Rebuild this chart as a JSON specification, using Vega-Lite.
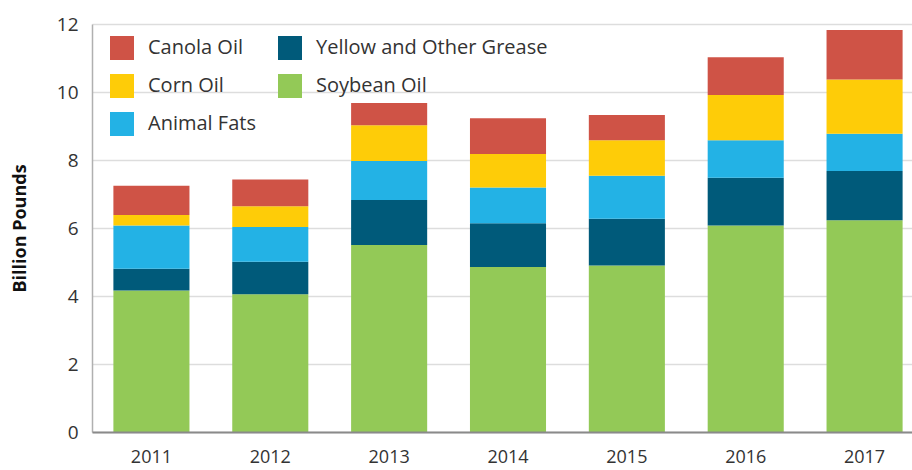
{
  "$schema": "https://vega.github.io/schema/vega-lite/v6.json",
  "width": 820,
  "height": 408,
  "autosize": "none",
  "padding": {"left": 92, "top": 24, "right": 0, "bottom": 38},
  "background": "white",
  "config": {
    "font": "Open Sans",
    "view": {"stroke": null},
    "axis": {"labelFont": "Open Sans", "labelColor": "#333333", "labelFontSize": 19}
  },
  "data": {
    "values": [
      {"year": "2011", "type": "Soybean Oil", "value": 4.16, "rank": 1},
      {"year": "2011", "type": "Yellow and Other Grease", "value": 0.64, "rank": 2},
      {"year": "2011", "type": "Animal Fats", "value": 1.27, "rank": 3},
      {"year": "2011", "type": "Corn Oil", "value": 0.31, "rank": 4},
      {"year": "2011", "type": "Canola Oil", "value": 0.86, "rank": 5},
      {"year": "2012", "type": "Soybean Oil", "value": 4.05, "rank": 1},
      {"year": "2012", "type": "Yellow and Other Grease", "value": 0.96, "rank": 2},
      {"year": "2012", "type": "Animal Fats", "value": 1.02, "rank": 3},
      {"year": "2012", "type": "Corn Oil", "value": 0.61, "rank": 4},
      {"year": "2012", "type": "Canola Oil", "value": 0.79, "rank": 5},
      {"year": "2013", "type": "Soybean Oil", "value": 5.50, "rank": 1},
      {"year": "2013", "type": "Yellow and Other Grease", "value": 1.32, "rank": 2},
      {"year": "2013", "type": "Animal Fats", "value": 1.15, "rank": 3},
      {"year": "2013", "type": "Corn Oil", "value": 1.05, "rank": 4},
      {"year": "2013", "type": "Canola Oil", "value": 0.66, "rank": 5},
      {"year": "2014", "type": "Soybean Oil", "value": 4.85, "rank": 1},
      {"year": "2014", "type": "Yellow and Other Grease", "value": 1.29, "rank": 2},
      {"year": "2014", "type": "Animal Fats", "value": 1.05, "rank": 3},
      {"year": "2014", "type": "Corn Oil", "value": 0.99, "rank": 4},
      {"year": "2014", "type": "Canola Oil", "value": 1.05, "rank": 5},
      {"year": "2015", "type": "Soybean Oil", "value": 4.90, "rank": 1},
      {"year": "2015", "type": "Yellow and Other Grease", "value": 1.37, "rank": 2},
      {"year": "2015", "type": "Animal Fats", "value": 1.27, "rank": 3},
      {"year": "2015", "type": "Corn Oil", "value": 1.04, "rank": 4},
      {"year": "2015", "type": "Canola Oil", "value": 0.74, "rank": 5},
      {"year": "2016", "type": "Soybean Oil", "value": 6.07, "rank": 1},
      {"year": "2016", "type": "Yellow and Other Grease", "value": 1.41, "rank": 2},
      {"year": "2016", "type": "Animal Fats", "value": 1.10, "rank": 3},
      {"year": "2016", "type": "Corn Oil", "value": 1.33, "rank": 4},
      {"year": "2016", "type": "Canola Oil", "value": 1.11, "rank": 5},
      {"year": "2017", "type": "Soybean Oil", "value": 6.23, "rank": 1},
      {"year": "2017", "type": "Yellow and Other Grease", "value": 1.45, "rank": 2},
      {"year": "2017", "type": "Animal Fats", "value": 1.09, "rank": 3},
      {"year": "2017", "type": "Corn Oil", "value": 1.60, "rank": 4},
      {"year": "2017", "type": "Canola Oil", "value": 1.45, "rank": 5}
    ]
  },
  "mark": {"type": "bar"},
  "encoding": {
    "x": {
      "field": "year",
      "type": "ordinal",
      "scale": {"range": [0, 832], "paddingInner": 0.36, "paddingOuter": 0.18},
      "axis": {
        "title": null,
        "labelAngle": 0,
        "ticks": false,
        "domainColor": "#8a8a8a",
        "domainWidth": 2,
        "labelPadding": 16,
        "labelFontSize": 18,
        "zindex": 3
      }
    },
    "y": {
      "field": "value",
      "type": "quantitative",
      "aggregate": "sum",
      "stack": "zero",
      "scale": {"domain": [0, 12], "nice": false},
      "axis": {
        "title": "Billion Pounds",
        "titleFont": "Open Sans",
        "titleFontWeight": "bold",
        "titleFontSize": 18,
        "titleColor": "#111111",
        "titlePadding": 27,
        "values": [0, 2, 4, 6, 8, 10, 12],
        "ticks": false,
        "labelPadding": 14,
        "domainColor": "#b0b0b0",
        "domainWidth": 1.5,
        "gridColor": "#dddddd",
        "gridWidth": 1.5
      }
    },
    "color": {
      "field": "type",
      "type": "nominal",
      "scale": {
        "domain": ["Canola Oil", "Corn Oil", "Animal Fats", "Yellow and Other Grease", "Soybean Oil"],
        "range": ["#CF5346", "#FECC08", "#23B2E5", "#005A7A", "#93C957"]
      },
      "legend": {
        "title": null,
        "orient": "none",
        "legendX": 8,
        "legendY": 2,
        "columns": 2,
        "padding": 10,
        "symbolType": "square",
        "symbolSize": 576,
        "symbolStrokeWidth": 0,
        "symbolOpacity": 1,
        "labelFont": "Open Sans",
        "labelFontSize": 20,
        "labelColor": "#333333",
        "labelOffset": 14,
        "rowPadding": 14,
        "columnPadding": 22,
        "labelLimit": 400
      }
    },
    "order": {"field": "rank", "type": "quantitative"}
  }
}
